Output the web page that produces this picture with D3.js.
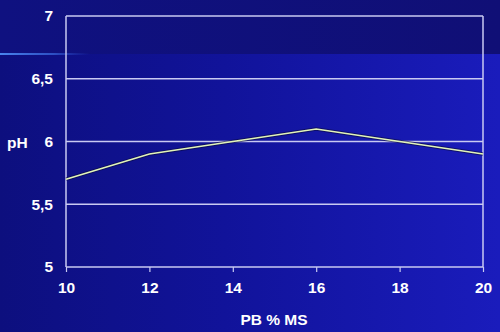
<!DOCTYPE html>
<html>
<head>
<meta charset="utf-8">
<script src="https://cdn.jsdelivr.net/npm/d3@7"></script>
<style>
  html, body { margin: 0; padding: 0; background: #0e1080; }
  svg { display: block; }
  text { font-family: "Liberation Sans", Arial, sans-serif; font-weight: bold; fill: #ffffff; }
</style>
</head>
<body>
<svg id="chart" width="500" height="332"></svg>
<script>
// Protein content of the diet (PB % MS) against measured pH
const pbLevels = [10, 12, 14, 16, 18, 20];
const phValues = [5.7, 5.9, 6.0, 6.1, 6.0, 5.9];
const xTicks = [10, 12, 14, 16, 18, 20];
const yTicks = [5, 5.5, 6, 6.5, 7];
const yTickLabels = ["5", "5,5", "6", "6,5", "7"];
const xTitle = "PB % MS";
const yTitle = "pH";

const W = 500, H = 332;
const margin = { left: 66, right: 17, top: 16, bottom: 65 };
const svg = d3.select("#chart");
const defs = svg.append("defs");

// Slide-style background: darker band on top, lighter blue sweep below
const gLow = defs.append("linearGradient").attr("id", "bgLow").attr("x1", 0).attr("x2", 1).attr("y1", 0).attr("y2", 0);
gLow.append("stop").attr("offset", 0).attr("stop-color", "#0d0f7e");
gLow.append("stop").attr("offset", 0.45).attr("stop-color", "#11139a");
gLow.append("stop").attr("offset", 1).attr("stop-color", "#1a1cbc");
const gTop = defs.append("linearGradient").attr("id", "bgTop").attr("x1", 0).attr("x2", 1).attr("y1", 0).attr("y2", 0);
gTop.append("stop").attr("offset", 0).attr("stop-color", "#0f1180");
gTop.append("stop").attr("offset", 1).attr("stop-color", "#100f76");
const gGlow = defs.append("linearGradient").attr("id", "glow").attr("x1", 0).attr("x2", 1).attr("y1", 0).attr("y2", 0);
gGlow.append("stop").attr("offset", 0).attr("stop-color", "#4a86ee").attr("stop-opacity", 1);
gGlow.append("stop").attr("offset", 0.6).attr("stop-color", "#3a6ae0").attr("stop-opacity", 0.7);
gGlow.append("stop").attr("offset", 1).attr("stop-color", "#2a4ad0").attr("stop-opacity", 0);

svg.append("rect").attr("width", W).attr("height", H).attr("fill", "url(#bgLow)");
svg.append("rect").attr("width", W).attr("height", 54).attr("fill", "url(#bgTop)");
svg.append("rect").attr("x", 0).attr("y", 53).attr("width", 90).attr("height", 2).attr("fill", "url(#glow)");

const x = d3.scaleLinear().domain([10, 20]).range([margin.left, W - margin.right]);
const y = d3.scaleLinear().domain([5, 7]).range([H - margin.bottom, margin.top]);

const gridColor = "#c9caf2";
const fontSize = 15.5;

// Horizontal gridlines (including top and bottom edges)
svg.append("g").selectAll("line").data(yTicks).join("line")
  .attr("x1", x(10)).attr("x2", x(20))
  .attr("y1", d => y(d)).attr("y2", d => y(d))
  .attr("stroke", gridColor).attr("stroke-width", 1.5);

// Left and right frame edges
svg.append("g").selectAll("line").data([10, 20]).join("line")
  .attr("x1", d => x(d)).attr("x2", d => x(d))
  .attr("y1", y(7)).attr("y2", y(5))
  .attr("stroke", gridColor).attr("stroke-width", 1.5);

// Bottom axis with ticks
const xAxis = d3.axisBottom(x).tickValues(xTicks).tickSize(5).tickPadding(10).tickFormat(d3.format("d"));
const gx = svg.append("g").attr("transform", `translate(0,${y(5)})`).call(xAxis);
gx.select(".domain").remove();
gx.selectAll(".tick line").attr("stroke", gridColor).attr("stroke-width", 1.2);
gx.selectAll(".tick text").attr("font-size", fontSize).attr("fill", "#fff")
  .attr("font-family", "Liberation Sans, Arial, sans-serif").attr("font-weight", "bold");

// Left axis labels
const yAxis = d3.axisLeft(y).tickValues(yTicks).tickSize(0).tickPadding(13)
  .tickFormat((d, i) => yTickLabels[i]);
const gy = svg.append("g").attr("transform", `translate(${x(10)},0)`).call(yAxis);
gy.select(".domain").remove();
gy.selectAll(".tick text").attr("font-size", fontSize).attr("fill", "#fff")
  .attr("font-family", "Liberation Sans, Arial, sans-serif").attr("font-weight", "bold");

// Axis titles
svg.append("text").attr("x", 274).attr("y", 325)
  .attr("text-anchor", "middle").attr("font-size", fontSize).text(xTitle);
svg.append("text").attr("x", 7).attr("y", 148)
  .attr("text-anchor", "start").attr("font-size", fontSize).text(yTitle);

// Data line: dark outline underneath a pale yellow-green stroke
const line = d3.line().x((d, i) => x(pbLevels[i])).y(d => y(d));
svg.append("path").datum(phValues).attr("d", line)
  .attr("fill", "none").attr("stroke", "#0a0a40").attr("stroke-width", 3.4).attr("stroke-opacity", 0.6);
svg.append("path").datum(phValues).attr("d", line)
  .attr("fill", "none").attr("stroke", "#e2f4b8").attr("stroke-width", 1.6);
</script>
</body>
</html>
